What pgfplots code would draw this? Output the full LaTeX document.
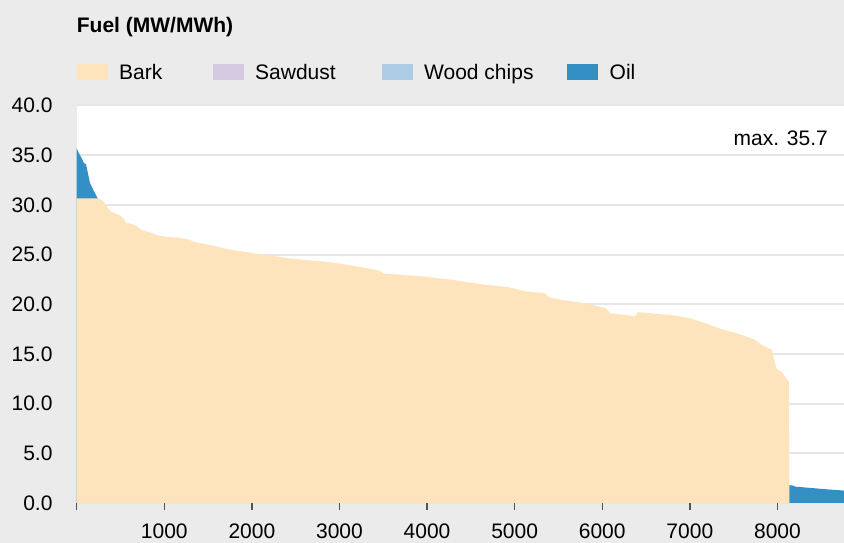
\documentclass[border=0pt]{standalone}
\usepackage{fontspec}
\setmainfont{Liberation Sans}
\usepackage{pgfplots}
\pgfplotsset{compat=1.18}
\definecolor{bgc}{HTML}{EBEBEB}
\definecolor{barkc}{HTML}{FDE4BC}
\definecolor{sawc}{HTML}{D5CAE2}
\definecolor{woodc}{HTML}{AECCE6}
\definecolor{oilc}{HTML}{348FC4}
\definecolor{gridc}{HTML}{E6E6E6}
\definecolor{tickc}{HTML}{555555}
\begin{document}
\begin{tikzpicture}[font=\fontsize{21bp}{25bp}\selectfont]
\useasboundingbox (0,0) rectangle (844bp,543bp);
\fill[bgc] (0,0) rectangle (844bp,543bp);
\begin{axis}[
  at={(76.7bp,40bp)}, anchor=south west,
  scale only axis, width=767.3bp, height=397.5bp,
  xmin=0, xmax=8760, ymin=0, ymax=40,
  axis background/.style={fill=white},
  axis x line*=bottom, axis y line*=left,
  axis line style={draw=none},
  xtick={0,1000,...,8000},
  xticklabels={{},1000,2000,3000,4000,5000,6000,7000,8000},
  ytick={0,5,...,40},
  ymajorgrids, grid style={gridc, line width=2bp},
  tick align=outside,
  major tick length=7bp,
  xtick style={draw=tickc, line width=1.5bp},
  ytick style={draw=none},
  /pgf/number format/assume math mode=true,
  yticklabel style={/pgf/number format/.cd, fixed, fixed zerofill, precision=1, /tikz/.cd, inner sep=0pt, anchor=east, xshift=-17bp},
  xticklabel style={inner sep=0pt, anchor=north, yshift=-13.5bp},
  title={\bfseries Fuel (MW/MWh)},
  title style={at={(0,1)}, anchor=base west, inner sep=0pt, yshift=67.5bp},
  legend columns=4,
  legend style={at={(0,1)}, anchor=west, yshift=33bp, draw=none, fill=none,
    inner sep=0pt, outer sep=0pt, column sep=0pt, row sep=0pt,
    nodes={inner sep=0pt},
    /tikz/every odd column/.append style={column sep=11.5bp}},
  legend image code/.code={\fill[#1, draw=none] (0bp,-8bp) rectangle (31bp,8bp);},
]
% Oil on top of bark, first hours
\addplot[fill=oilc, draw=none, forget plot] coordinates {
(0,35.7) (5,35.6) (18,35.3) (57,34.7) (83,34.2) (106,34.1) (152,32.2) (190,31.5) (240,30.65) (245,30.6)
} \closedcycle;
% Bark
\addplot[fill=barkc, draw=none, forget plot] coordinates {
(0,30.65) (235,30.65) (260,30.6) (300,30.4) (330,30.0) (370,29.5) (400,29.3) (450,29.1) (500,28.9)
(540,28.6) (560,28.2) (620,28.1) (680,27.9) (720,27.6) (760,27.4) (850,27.2) (900,27.0) (1000,26.8)
(1150,26.7) (1290,26.5) (1330,26.3) (1500,26.0) (1750,25.5) (2050,25.1) (2430,24.6) (2810,24.3)
(3000,24.1) (3200,23.8) (3450,23.4) (3500,23.1) (3950,22.8) (4250,22.5) (4630,22.0) (4940,21.7)
(5120,21.3) (5350,21.1) (5390,20.7) (5560,20.4) (5730,20.2) (5900,19.9) (6040,19.6) (6090,19.1)
(6380,18.8) (6400,19.2) (6800,18.9) (7000,18.6) (7140,18.2) (7360,17.5) (7480,17.2) (7600,16.9)
(7750,16.4) (7820,15.9) (7940,15.4) (7960,14.5) (7990,13.5) (8050,13.2) (8105,12.5) (8130,12.2) (8135,0)
} \closedcycle;
% Oil tail
\addplot[fill=oilc, draw=none, forget plot] coordinates {
(8135,1.8) (8180,1.75) (8200,1.65) (8400,1.5) (8600,1.35) (8760,1.25)
} \closedcycle;
\addlegendimage{fill=barkc, draw=none}
\addlegendentry{\makebox[93.5bp][l]{Bark}}
\addlegendimage{fill=sawc, draw=none}
\addlegendentry{\makebox[126.5bp][l]{Sawdust}}
\addlegendimage{fill=woodc, draw=none}
\addlegendentry{\makebox[143bp][l]{Wood chips}}
\addlegendimage{fill=oilc, draw=none}
\addlegendentry{Oil}
\node[anchor=base east, inner sep=0pt, xshift=-16bp, yshift=-40.5bp] at (rel axis cs:1,1) {max. 35.7};
\end{axis}
\end{tikzpicture}
\end{document}
